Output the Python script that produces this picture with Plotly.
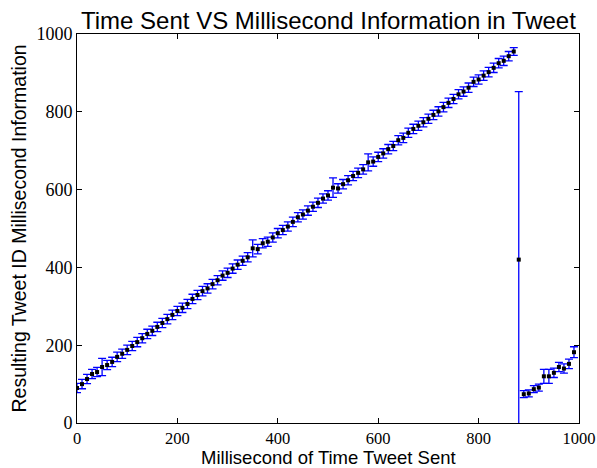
import plotly.graph_objects as go

# Millisecond of time tweet sent (bins of 10 ms)
x_ms = [0, 10, 20, 30, 40, 50, 60, 70, 80, 90,
        100, 110, 120, 130, 140, 150, 160, 170, 180, 190,
        200, 210, 220, 230, 240, 250, 260, 270, 280, 290,
        300, 310, 320, 330, 340, 350, 360, 370, 380, 390,
        400, 410, 420, 430, 440, 450, 460, 470, 480, 490,
        500, 510, 520, 530, 540, 550, 560, 570, 580, 590,
        600, 610, 620, 630, 640, 650, 660, 670, 680, 690,
        700, 710, 720, 730, 740, 750, 760, 770, 780, 790,
        800, 810, 820, 830, 840, 850, 860, 870, 880, 890,
        900, 910, 920, 930, 940, 950, 960, 970, 980, 990]

# Mean resulting tweet-ID millisecond value
y_mean = [90, 100, 113, 126, 131, 144, 149, 157, 170, 178,
          188, 198, 208, 218, 229, 237, 247, 257, 267, 278,
          288, 296, 306, 319, 329, 339, 346, 357, 367, 379,
          386, 397, 407, 417, 426, 449, 447, 462, 466, 477,
          488, 496, 505, 517, 529, 536, 546, 556, 566, 577,
          585, 605, 603, 614, 624, 635, 643, 652, 670, 672,
          684, 693, 704, 712, 727, 733, 746, 756, 764, 773,
          782, 792, 801, 812, 823, 833, 845, 852, 862, 877,
          883, 893, 902, 913, 925, 931, 943, 955, 420, 74,
          76, 87, 91, 120, 120, 129, 144, 140, 152, 182]

# Error (half-width of the error bar)
y_err = [12, 12, 12, 12, 12, 22, 12, 12, 12, 12,
         12, 12, 12, 12, 12, 12, 12, 12, 12, 12,
         12, 12, 12, 12, 12, 12, 12, 12, 12, 12,
         12, 12, 12, 12, 12, 22, 12, 12, 12, 12,
         12, 12, 12, 12, 12, 12, 12, 12, 12, 12,
         12, 25, 12, 12, 12, 12, 12, 12, 22, 12,
         12, 12, 12, 12, 12, 12, 12, 12, 12, 12,
         12, 12, 12, 12, 12, 12, 12, 12, 12, 12,
         12, 12, 12, 12, 12, 12, 12, 10, 432, 9,
         9, 9, 9, 18, 18, 12, 12, 12, 12, 14]

x_ticks = [0, 200, 400, 600, 800, 1000]
y_ticks = [0, 200, 400, 600, 800, 1000]

fig = go.Figure()
fig.add_trace(go.Scatter(
    x=x_ms, y=y_mean, mode="markers",
    marker=dict(color="black", size=4, symbol="square"),
    error_y=dict(type="data", array=y_err, visible=True,
                 color="#0000ff", thickness=1.3, width=4),
    showlegend=False, cliponaxis=True,
))

serif = "Liberation Serif, DejaVu Serif, serif"
common = dict(showline=True, linecolor="black", linewidth=1, mirror="allticks",
              ticks="inside", ticklen=5, tickcolor="black", tickwidth=1,
              showgrid=False, zeroline=False, automargin=False)

fig.update_xaxes(range=[0, 1000], tickvals=x_ticks, ticktext=[str(v) for v in x_ticks],
                 tickfont=dict(family=serif, size=16.5, color="black"), **common)
fig.update_yaxes(range=[0, 1000], tickvals=y_ticks, ticktext=[str(v) for v in y_ticks],
                 tickfont=dict(family=serif, size=18, color="black"), **common)

sans = "Liberation Sans, Arial, sans-serif"
fig.update_layout(
    width=597, height=468,
    margin=dict(l=77, r=18, t=34, b=45, pad=0),
    plot_bgcolor="white", paper_bgcolor="white",
    annotations=[
        dict(text="Time Sent VS Millisecond Information in Tweet", xref="paper", yref="paper",
             x=0.5, y=(423 - 20) / 389, xanchor="center", yanchor="middle", showarrow=False,
             font=dict(family=sans, size=24, color="black")),
        dict(text="Millisecond of Time Tweet Sent", xref="paper", yref="paper",
             x=0.5, y=(423 - 457) / 389, xanchor="center", yanchor="middle", showarrow=False,
             font=dict(family=sans, size=18.5, color="black")),
        dict(text="Resulting Tweet ID Millisecond Information", xref="paper", yref="paper",
             x=(18 - 77) / 502, y=0.5, xanchor="center", yanchor="middle", showarrow=False,
             textangle=-90, font=dict(family=sans, size=19.5, color="black")),
    ],
)

fig.write_html("out.html", config={"responsive": False, "displayModeBar": False},
               post_script="document.body.style.margin='0';document.body.style.padding='0';"
                           "document.body.style.overflow='hidden';")
